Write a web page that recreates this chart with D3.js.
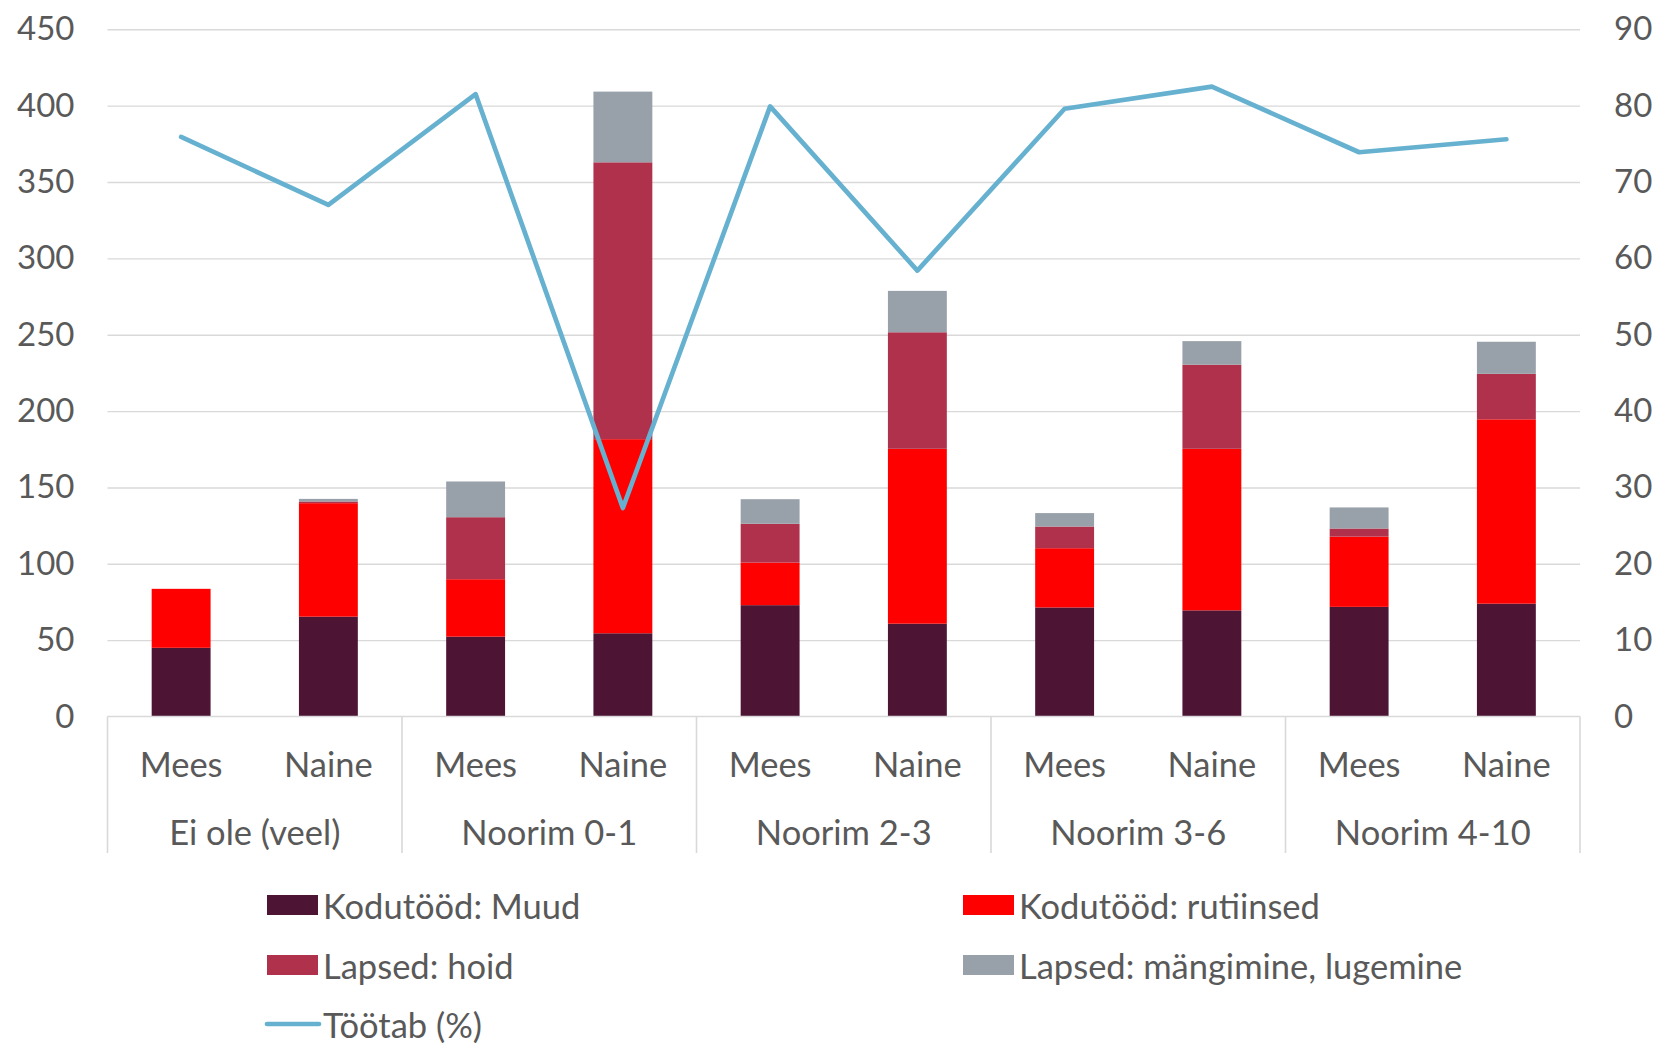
<!DOCTYPE html>
<html>
<head>
<meta charset="utf-8">
<script src="https://cdn.jsdelivr.net/npm/d3@7"></script>
<style>
  html, body { margin: 0; padding: 0; background: #fff; }
  svg { display: block; }
  text { font-family: Lato, "Open Sans", sans-serif; fill: #595959; }
</style>
</head>
<body>
<svg id="chart" width="1655" height="1044"></svg>
<script>
// ---- data ----
const groups = ["Ei ole (veel)", "Noorim 0-1", "Noorim 2-3", "Noorim 3-6", "Noorim 4-10"];
const genders = ["Mees", "Naine"];
const seriesNames = ["Kodutööd: Muud", "Kodutööd: rutiinsed", "Lapsed: hoid", "Lapsed: mängimine, lugemine"];
const muud       = [45.0, 65.4, 52.3, 54.5, 72.9, 60.8, 71.4, 69.5, 71.8, 73.9];
const rutiinsed  = [38.6, 74.3, 37.6, 127.1, 27.9, 114.5, 38.8, 105.8, 46.0, 120.7];
const hoid       = [0.0, 1.1, 40.6, 181.3, 25.4, 76.3, 14.2, 55.1, 5.3, 29.8];
const mangimine  = [0.0, 1.7, 23.4, 46.3, 16.1, 27.1, 8.8, 15.4, 13.8, 21.0];
const lineName = "Töötab (%)";
const tootab     = [75.9, 67.0, 81.5, 27.3, 79.9, 58.4, 79.6, 82.5, 73.9, 75.6];
const leftTicks  = [0, 50, 100, 150, 200, 250, 300, 350, 400, 450];
const rightTicks = [0, 10, 20, 30, 40, 50, 60, 70, 80, 90];

// ---- styles ----
const colors = ["#4d1434", "#ff0000", "#b0314b", "#98a0a9"];
const lineColor = "#67b1d0";
const gridColor = "#d9d9d9";
const fontSize = 33;
const labelSize = 34.5;

const svg = d3.select("#chart");
const m = { left: 107.5, right: 1580, top: 29.3, bottom: 716.5 };

const cats = [];
groups.forEach(g => genders.forEach(s => cats.push(g + "|" + s)));

const x = d3.scaleBand().domain(cats).range([m.left, m.right]).paddingInner(0.6).paddingOuter(0.3);
const xg = d3.scaleBand().domain(groups).range([m.left, m.right]).padding(0);
const y = d3.scaleLinear().domain([0, 450]).range([m.bottom, m.top]);
const y2 = d3.scaleLinear().domain([0, 90]).range([m.bottom, m.top]);

// gridlines
const grid = svg.append("g").attr("transform", `translate(${m.left},0)`)
  .call(d3.axisLeft(y).tickValues(leftTicks.slice(1)).tickSize(-(m.right - m.left)).tickFormat(""));
grid.select(".domain").remove();
grid.selectAll("line").attr("stroke", gridColor).attr("stroke-width", 1.4);

// left axis labels
const la = svg.append("g").attr("transform", `translate(${m.left},0)`)
  .call(d3.axisLeft(y).tickValues(leftTicks).tickSize(0).tickPadding(33).tickFormat(d3.format("d")));
la.select(".domain").remove();
la.selectAll("text").style("font-size", fontSize + "px").attr("fill", "#595959").attr("font-family", null);

// right axis labels
const ra = svg.append("g").attr("transform", `translate(${m.right},0)`)
  .call(d3.axisRight(y2).tickValues(rightTicks).tickSize(0).tickPadding(34).tickFormat(d3.format("d")));
ra.select(".domain").remove();
ra.selectAll("text").style("font-size", fontSize + "px").attr("fill", "#595959").attr("font-family", null);

// stacked bars
const rows = cats.map((c, i) => ({ cat: c, v: [muud[i], rutiinsed[i], hoid[i], mangimine[i]] }));
const stack = d3.stack().keys([0, 1, 2, 3]).value((d, k) => d.v[k]);
const layers = stack(rows);
svg.append("g").selectAll("g").data(layers).join("g")
  .attr("fill", (d, i) => colors[i])
  .selectAll("rect").data(d => d).join("rect")
  .attr("x", d => x(d.data.cat))
  .attr("width", x.bandwidth())
  .attr("y", d => y(d[1]))
  .attr("height", d => Math.max(0, y(d[0]) - y(d[1])));

// x axis line and category separators
const xa = svg.append("g");
xa.append("line").attr("x1", m.left).attr("x2", m.right).attr("y1", m.bottom).attr("y2", m.bottom)
  .attr("stroke", gridColor).attr("stroke-width", 1.6);
const bounds = groups.map(g => xg(g)).concat([m.right]);
xa.selectAll("line.sep").data(bounds).join("line").attr("class", "sep")
  .attr("x1", d => d).attr("x2", d => d).attr("y1", m.bottom).attr("y2", 853)
  .attr("stroke", gridColor).attr("stroke-width", 1.6);

xa.selectAll("text.sub").data(cats).join("text").attr("class", "sub")
  .attr("x", d => x(d) + x.bandwidth() / 2).attr("y", 763)
  .attr("text-anchor", "middle").attr("dominant-baseline", "central")
  .style("font-size", labelSize + "px")
  .text(d => d.split("|")[1]);
xa.selectAll("text.grp").data(groups).join("text").attr("class", "grp")
  .attr("x", d => xg(d) + xg.bandwidth() / 2).attr("y", 831)
  .attr("text-anchor", "middle").attr("dominant-baseline", "central")
  .style("font-size", labelSize + "px")
  .text(d => d);

// line
const line = d3.line().x((d, i) => x(cats[i]) + x.bandwidth() / 2).y(d => y2(d));
svg.append("path").datum(tootab).attr("d", line)
  .attr("fill", "none").attr("stroke", lineColor).attr("stroke-width", 4.7)
  .attr("stroke-linejoin", "round").attr("stroke-linecap", "round");

// legend
const legendItems = seriesNames.map((n, i) => ({ name: n, color: colors[i], type: "rect" }))
  .concat([{ name: lineName, color: lineColor, type: "line" }]);
const colX = [267, 963];
const rowY = [905, 965, 1024];
const lg = svg.append("g").selectAll("g").data(legendItems).join("g")
  .attr("transform", (d, i) => `translate(${colX[i % 2]},${rowY[Math.floor(i / 2)]})`);
lg.filter(d => d.type === "rect").append("rect")
  .attr("x", 0).attr("y", -10).attr("width", 51).attr("height", 20).attr("fill", d => d.color);
lg.filter(d => d.type === "line").append("line")
  .attr("x1", 0).attr("x2", 52).attr("y1", 0).attr("y2", 0)
  .attr("stroke", d => d.color).attr("stroke-width", 4.7).attr("stroke-linecap", "round");
lg.append("text").attr("x", 56).attr("y", 0).attr("dominant-baseline", "central")
  .style("font-size", labelSize + "px").text(d => d.name);
</script>
</body>
</html>
